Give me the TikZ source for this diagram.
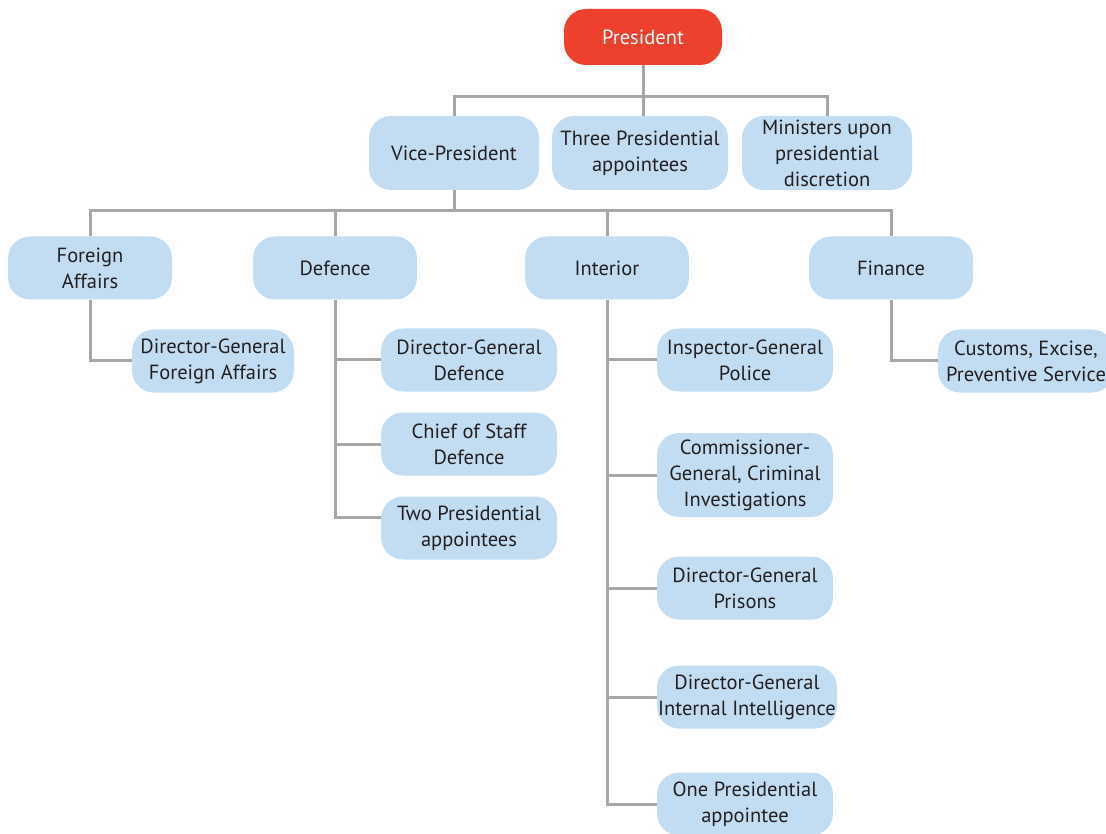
\documentclass[tikz,border=0pt]{standalone}
\usepackage{fontspec}
\setmainfont{PT Sans}
\usepackage{tikz}

\definecolor{boss}{RGB}{238,65,45}
\definecolor{cell}{RGB}{194,221,242}
\definecolor{wire}{RGB}{167,167,169}
\definecolor{ink}{RGB}{35,31,32}

\tikzset{
  box/.style={rounded corners=22pt, fill=cell, text=ink, align=center,
    inner sep=0pt, minimum height=63pt,
    font=\fontsize{20.5}{26}\selectfont},
  link/.style={draw=wire, line width=3pt},
}

\begin{document}
\begin{tikzpicture}[x=1pt,y=-1pt]

\useasboundingbox (0,0) rectangle (1106,834);

%% top
\node[box,fill=boss,text=white,minimum width=158pt,minimum height=56pt] (pres) at (643,37) {President};
\node[box,minimum width=170pt,minimum height=74pt] (vp) at (454,153) {Vice-President};
\node[box,minimum width=176pt,minimum height=74pt] (three) at (640,153) {Three Presidential\\appointees};
\node[box,minimum width=170pt,minimum height=74pt] (min) at (827,153) {Ministers upon\\presidential\\discretion};

\coordinate (bar1) at (643,97);
\draw[link] (pres.south) -- (pres.south |- three.north);
\draw[link] (vp.north) |- (bar1) -| (min.north);

%% ministries
\def\mw{164pt}
\node[box,minimum width=\mw] (fa) at (90,268) {Foreign\\Affairs};
\node[box,minimum width=\mw] (def) at (335,268) {Defence};
\node[box,minimum width=\mw] (int) at (607,268) {Interior};
\node[box,minimum width=\mw] (fin) at (891,268) {Finance};

\coordinate (bar2) at (454,211);
\draw[link] (vp.south) -- (bar2);
\draw[link] (fa.north) |- (bar2) -| (fin.north);
\draw[link] (def.north) -- (def.north |- bar2);
\draw[link] (int.north) -- (int.north |- bar2);

%% foreign affairs
\node[box,minimum width=162pt] (dgfa) at (213,361) {Director-General\\Foreign Affairs};
\draw[link] (fa.south) |- (dgfa.west);

%% defence
\def\cw{176pt}
\node[box,minimum width=\cw] (dgdef) at (469,360) {Director-General\\Defence};
\node[box,minimum width=\cw] (cos) at (469,444) {Chief of Staff\\Defence};
\node[box,minimum width=\cw] (two) at (469,528) {Two Presidential\\appointees};

\coordinate (defend) at (335,517);
\draw[link] (def.south) -- (defend) -- (defend -| two.west);
\foreach \n in {dgdef,cos}{
\draw[link] (def.south |- \n.west) -- (\n.west);
}

%% interior
\node[box,minimum width=\cw] (igp) at (745,360) {Inspector-General\\Police};
\node[box,minimum width=\cw,minimum height=84pt] (cgci) at (745,475) {Commissioner-\\General, Criminal\\Investigations};
\node[box,minimum width=\cw] (dgp) at (745,588) {Director-General\\Prisons};
\node[box,minimum width=180pt] (dgii) at (747,697) {Director-General\\Internal Intelligence};
\node[box,minimum width=\cw] (one) at (745,804) {One Presidential\\appointee};

\draw[link] (int.south) |- (one.west);
\foreach \n in {igp,cgci,dgp,dgii}{
\draw[link] (int.south |- \n.west) -- (\n.west);
}

%% finance
\node[box,minimum width=176pt] (cust) at (1026,361) {Customs, Excise,\\Preventive Service};
\draw[link] (fin.south) |- (cust.west);

\end{tikzpicture}
\end{document}
